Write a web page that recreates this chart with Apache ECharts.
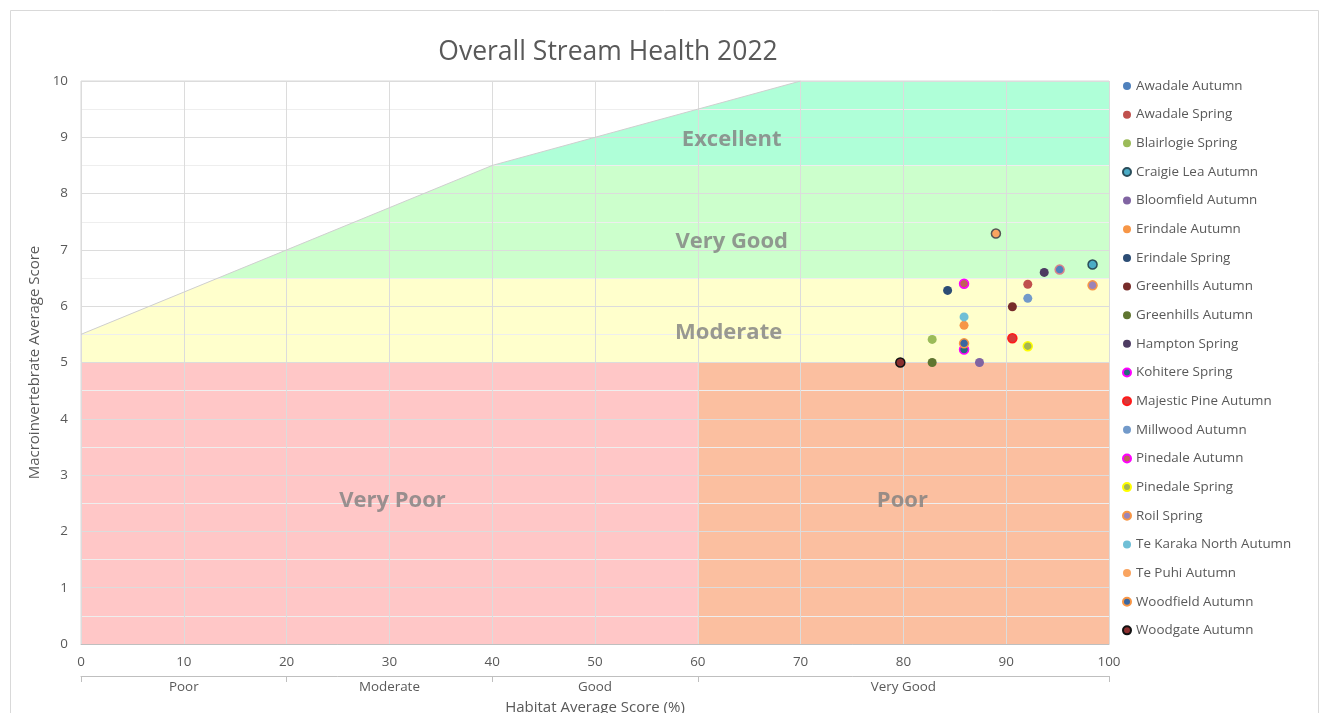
<!DOCTYPE html>
<html>
<head>
<meta charset="utf-8">
<script src="https://cdn.jsdelivr.net/npm/echarts@6/dist/echarts.min.js"></script>
<style>
html,body{margin:0;padding:0;background:#fff;}
#chart{width:1330px;height:713px;}
</style>
</head>
<body>
<div id="chart"></div>
<script>
// ---- data ----
const siteNames = ["Awadale Autumn","Awadale Spring","Blairlogie Spring","Craigie Lea Autumn","Bloomfield Autumn","Erindale Autumn","Erindale Spring","Greenhills Autumn","Greenhills Autumn ","Hampton Spring","Kohitere Spring","Majestic Pine Autumn","Millwood Autumn","Pinedale Autumn","Pinedale Spring","Roil Spring","Te Karaka North Autumn","Te Puhi Autumn","Woodfield Autumn","Woodgate Autumn"];
const habitatScore = [95.2, 92.1, 82.8, 98.4, 87.4, 85.9, 84.3, 90.6, 82.8, 93.7, 85.9, 90.6, 92.1, 85.9, 92.1, 98.4, 85.9, 89.0, 85.9, 79.7];
const macroScore   = [6.65, 6.39, 5.41, 6.74, 5.00, 5.66, 6.28, 5.99, 5.00, 6.60, 5.23, 5.43, 6.14, 6.40, 5.29, 6.37, 5.81, 7.29, 5.34, 5.00];

const zoneNames = ["Very Poor","Poor","Moderate","Very Good","Excellent"];
const zonePolygons = [
  [[0,0],[60,0],[60,5],[0,5]],
  [[60,0],[100,0],[100,5],[60,5]],
  [[0,5],[100,5],[100,6.5],[13.333,6.5],[0,5.5]],
  [[13.333,6.5],[100,6.5],[100,8.5],[40,8.5]],
  [[40,8.5],[100,8.5],[100,10],[70,10]]
];
const zoneLabelPos = [[30.3,2.54],[79.9,2.54],[63.0,5.52],[63.3,7.14],[63.3,8.95]];

const xTickValues = [0,10,20,30,40,50,60,70,80,90,100];
const yTickValues = [0,1,2,3,4,5,6,7,8,9,10];
const habitatBandBreaks = [0,20,40,60,100];
const habitatBandCenters = [10,30,50,80];
const habitatBandNames = ["Poor","Moderate","Good","Very Good"];

// ---- styles ----
const zoneColors = ["#FFC7C7","#FBBFA0","#FFFFCC","#CCFFCC","#AFFFD8"];
const siteStyles = [
  {color:"#4F81BD", border:"#D9828A", plainLegend:true},
  {color:"#C0504D"},
  {color:"#9BBB59"},
  {color:"#4BACC6", border:"#2A4D5A"},
  {color:"#8064A2"},
  {color:"#F79646"},
  {color:"#2C4D75"},
  {color:"#772C2A"},
  {color:"#5F7530"},
  {color:"#4D3B62"},
  {color:"#276A7C", border:"#FF00FF"},
  {color:"#D63A3A", border:"#FF1A1A"},
  {color:"#729ACA"},
  {color:"#C0605A", border:"#FF00FF"},
  {color:"#A5B552", border:"#FFFF00"},
  {color:"#9A84B8", border:"#F79646"},
  {color:"#6FBFD6"},
  {color:"#F9A460", border:"#555555", plainLegend:true},
  {color:"#3A67A0", border:"#F79646"},
  {color:"#8B2F2F", border:"#111111"}
];

const FONT = "'Open Sans', sans-serif";
const chart = echarts.init(document.getElementById('chart'), null, {renderer:'canvas'});

const zoneSeries = {
  type:'custom', z:0, silent:true,
  data: zonePolygons.map((p,i)=>({value:[i], name:zoneNames[i]})),
  renderItem: function(params, api){
    const i = api.value(0);
    const pts = zonePolygons[i].map(pt=>api.coord(pt));
    return {type:'polygon', shape:{points:pts}, style:{fill:zoneColors[i], stroke:null}};
  }
};
const boundarySeries = {
  type:'line', z:1, silent:true, symbol:'none',
  data:[[0,5.5],[40,8.5],[70,10]],
  lineStyle:{color:'#CFCFCF', width:1}
};
const labelSeries = {
  type:'scatter', z:4, silent:true, symbolSize:0,
  data: zoneLabelPos.map((p,i)=>({value:p, name:zoneNames[i]})),
  label:{show:true, position:'inside', formatter:'{b}', fontFamily:FONT, fontWeight:'bold', fontSize:22, color:'#7F7F7F'}
};

const siteSeries = siteNames.map((n,i)=>({
  name:n, type:'scatter', z:5, symbolSize:9,
  data:[[habitatScore[i], macroScore[i]]],
  itemStyle:{color:siteStyles[i].color, borderColor:siteStyles[i].border || siteStyles[i].color, borderWidth: siteStyles[i].border ? 1.5 : 0, opacity:1}
}));

const legendData = siteNames.map((n,i)=> siteStyles[i].plainLegend ? {name:n, itemStyle:{borderWidth:0}} : {name:n});

const option = {
  backgroundColor:'#fff',
  animation:false,
  title:{text:'Overall Stream Health 2022', left:603, top:34, textAlign:'center',
    textStyle:{fontFamily:FONT, fontSize:26.5, fontWeight:'normal', color:'#595959'}},
  grid:{left:81, right:221, top:81, bottom:69, outerBoundsMode:'none', containLabel:false,
    show:true, borderColor:'#D9D9D9', borderWidth:1, backgroundColor:'transparent'},
  legend:{orient:'vertical', left:1117, top:74, itemWidth:8, itemHeight:8, itemGap:14.65, icon:'circle',
    textStyle:{fontFamily:FONT, fontSize:13.4, color:'#595959', lineHeight:14},
    data: legendData},
  xAxis:[
    {type:'value', min:0, max:100, interval:10, z:1,
     axisLine:{show:true, lineStyle:{color:'#BFBFBF'}}, axisTick:{show:false},
     axisLabel:{fontFamily:FONT, fontSize:13.4, color:'#595959', margin:12, customValues:xTickValues},
     splitLine:{show:true, lineStyle:{color:'#DCDCDC', width:1}}},
    {type:'value', min:0, max:100, position:'bottom', offset:32, z:1,
     name:'Habitat Average Score (%)', nameLocation:'middle', nameGap:24,
     nameTextStyle:{fontFamily:FONT, fontSize:15, color:'#595959'},
     axisLine:{show:true, lineStyle:{color:'#BFBFBF'}},
     axisTick:{show:true, length:6, lineStyle:{color:'#BFBFBF'}, customValues:habitatBandBreaks},
     axisLabel:{fontFamily:FONT, fontSize:13.4, color:'#595959', margin:5, customValues:habitatBandCenters,
       formatter:function(v){ const k = habitatBandCenters.indexOf(v); return k>=0 ? habitatBandNames[k] : ''; }},
     splitLine:{show:false}}
  ],
  yAxis:{type:'value', min:0, max:10, interval:1, z:1,
    name:'Macroinvertebrate Average Score', nameLocation:'middle', nameGap:35,
    nameTextStyle:{fontFamily:FONT, fontSize:15, color:'#595959'},
    axisLine:{show:false}, axisTick:{show:false},
    axisLabel:{fontFamily:FONT, fontSize:13.4, color:'#595959', margin:13, customValues:yTickValues},
    splitLine:{show:true, lineStyle:{color:'#DCDCDC', width:1}},
    minorTick:{show:true, splitNumber:2, length:0, lineStyle:{width:0}},
    minorSplitLine:{show:true, lineStyle:{color:'#EEEEEE', width:1}}},
  graphic:[{type:'rect', shape:{x:10.5, y:10.5, width:1308, height:720}, style:{fill:null, stroke:'#D9D9D9', lineWidth:1}, z:-10, silent:true}],
  series:[zoneSeries, boundarySeries, labelSeries].concat(siteSeries)
};
chart.setOption(option);
</script>
</body>
</html>
